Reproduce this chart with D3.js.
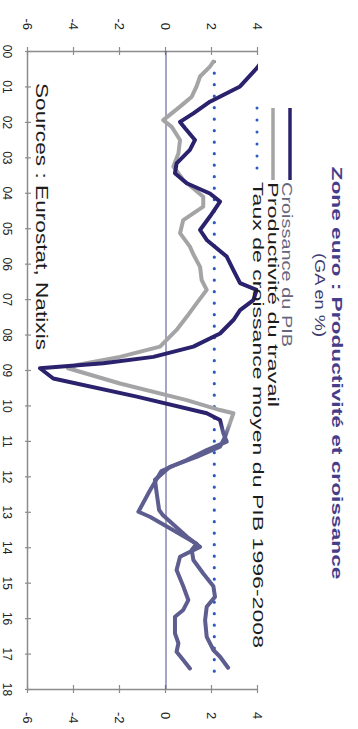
<!DOCTYPE html>
<html>
<head>
<meta charset="utf-8">
<script src="https://cdn.jsdelivr.net/npm/d3@7"></script>
<style>
  body { margin: 0; background: #fff; }
  svg { display: block; font-family: "Liberation Sans", Arial, sans-serif; }
</style>
</head>
<body>
<div id="chart"></div>
<script>
// Years on the category axis, value ticks (GA en %)
const years = d3.range(2000, 2019);
const valueTicks = [-6, -4, -2, 0, 2, 4];

// Croissance du PIB, [year, %]
const gdp = [
  [2000.0, 4.5], [2000.49, 3.94], [2001.0, 3.22], [2001.43, 1.91], [2001.76, 1.19],
  [2002.0, 0.61], [2002.18, 0.83], [2002.51, 1.26], [2002.79, 1.04], [2003.17, 0.46],
  [2003.45, 0.39], [2003.73, 0.9], [2004.02, 1.91], [2004.25, 2.35], [2004.67, 1.91],
  [2005.05, 1.48], [2005.33, 1.77], [2005.8, 2.64], [2006.18, 2.93], [2006.55, 3.22],
  [2006.74, 3.94], [2007.03, 3.8], [2007.31, 3.22], [2007.59, 2.93], [2007.97, 2.35],
  [2008.34, 1.19], [2008.63, -0.55], [2008.81, -2.72], [2008.95, -5.48], [2009.24, -4.9],
  [2009.75, -1.27], [2010.22, 1.77], [2010.41, 2.35], [2010.78, 2.49], [2011.02, 2.64],
  [2011.26, 1.77], [2011.54, 0.9], [2011.85, -0.2], [2012.4, -0.7], [2013.0, -1.2],
  [2013.14, -0.7], [2013.52, 0.32], [2013.9, 1.33], [2014.08, 1.12], [2014.36, 1.19],
  [2014.74, 1.62], [2015.1, 2.06], [2015.4, 2.13], [2015.68, 1.77], [2016.06, 1.7],
  [2016.53, 1.77], [2016.9, 2.06], [2017.09, 2.35], [2017.4, 2.7]
];

// Productivité du travail, [year, %]
const productivity = [
  [2000.3, 2.06], [2000.44, 1.91], [2000.72, 1.48], [2001.0, 1.33], [2001.29, 1.12],
  [2001.57, 0.61], [2001.95, -0.12], [2002.14, 0.25], [2002.51, 0.61], [2002.89, 0.54],
  [2003.26, 0.32], [2003.64, 0.75], [2004.11, 1.62], [2004.39, 1.62], [2004.77, 0.75],
  [2005.14, 0.61], [2005.52, 1.04], [2005.75, 1.2], [2006.09, 1.48], [2006.46, 1.55],
  [2006.74, 1.77], [2007.12, 1.33], [2007.5, 0.9], [2007.87, 0.46], [2008.34, -0.26],
  [2008.63, -2.0], [2008.86, -3.88], [2008.95, -4.26], [2009.38, -2.0], [2009.85, 0.9],
  [2010.13, 2.35], [2010.22, 2.93], [2010.5, 2.78], [2010.88, 2.57], [2011.16, 2.35],
  [2011.45, 1.33], [2011.73, 0.17], [2012.1, -0.48], [2012.5, -0.4], [2012.95, -0.3],
  [2013.1, -0.13], [2013.7, 0.9], [2013.99, 1.48], [2014.27, 0.61], [2014.64, 0.46],
  [2015.1, 0.75], [2015.49, 0.97], [2015.77, 0.75], [2015.96, 0.39], [2016.43, 0.39],
  [2016.71, 0.54], [2016.95, 0.46], [2017.18, 0.75], [2017.42, 1.04]
];

// Taux de croissance moyen du PIB 1996-2008
const avgGrowth = 2.1;
const avgSpan = [2000.3, 2017.6];

const legendLabels = [
  "Croissance du PIB",
  "Productivité du travail",
  "Taux de croissance moyen du PIB 1996-2008"
];

const W = 358, H = 729;
const navy = "#2b226e", grey = "#a4a4a6", slate = "#5d5d90", dotBlue = "#2c5cc0";
const axisColor = "#8c8c8c";

const svg = d3.select("#chart").append("svg")
  .attr("width", W).attr("height", H);
svg.append("rect").attr("width", W).attr("height", H).attr("fill", "#fff");

// the chart is laid out landscape and turned a quarter turn clockwise
const g = svg.append("g").attr("transform", `translate(${W},0) rotate(90)`);

const x = d3.scaleLinear().domain([2000, 2018]).range([51, 689]);
const y = d3.scaleLinear().domain([-6, 4]).range([330, 100]);

const defs = svg.append("defs");
defs.append("clipPath").attr("id", "plot")
  .append("rect")
  .attr("x", x(2000)).attr("y", y(4))
  .attr("width", x(2018) - x(2000)).attr("height", y(-6) - y(4));

function fade(id, from, to, t0, t1) {
  const lg = defs.append("linearGradient").attr("id", id)
    .attr("gradientUnits", "userSpaceOnUse")
    .attr("x1", x(t0)).attr("x2", x(t1)).attr("y1", 0).attr("y2", 0);
  lg.append("stop").attr("offset", 0).attr("stop-color", from);
  lg.append("stop").attr("offset", 1).attr("stop-color", to);
}
fade("gdpFade", navy, slate, 2010.4, 2010.75);
fade("prodFade", grey, slate, 2010.5, 2010.85);

// axes
function styleAxis(a) {
  a.select(".domain").attr("stroke", axisColor).attr("stroke-width", 1.5);
  a.selectAll(".tick line").attr("stroke", axisColor).attr("stroke-width", 1.2);
  a.selectAll(".tick text").attr("fill", "#222").attr("font-family", "Liberation Sans, Arial, sans-serif");
}

const xAxis = g.append("g")
  .attr("transform", `translate(0,${y(-6)})`)
  .call(d3.axisBottom(x).tickValues(years).tickSize(3).tickSizeOuter(0)
    .tickPadding(13).tickFormat(d => String(d).slice(2)));
xAxis.selectAll(".tick line").attr("y1", -3);
xAxis.selectAll(".tick text").attr("font-size", 12);
styleAxis(xAxis);

const leftAxis = g.append("g")
  .attr("transform", `translate(${x(2000)},0)`)
  .call(d3.axisLeft(y).tickValues(valueTicks).tickSize(4).tickSizeOuter(0)
    .tickPadding(17).tickFormat(d => String(d)));
leftAxis.selectAll(".tick line").attr("x1", 4);
leftAxis.selectAll(".tick text").attr("font-size", 13);
styleAxis(leftAxis);

const rightAxis = g.append("g")
  .attr("transform", `translate(${x(2018)},0)`)
  .call(d3.axisRight(y).tickValues(valueTicks).tickSize(4).tickSizeOuter(0)
    .tickPadding(19).tickFormat(d => String(d)));
rightAxis.selectAll(".tick line").attr("x1", -4);
rightAxis.selectAll(".tick text").attr("font-size", 13);
styleAxis(rightAxis);

// zero line
g.append("line")
  .attr("x1", x(2000)).attr("x2", x(2018))
  .attr("y1", y(0)).attr("y2", y(0))
  .attr("stroke", "#4a4a8c").attr("stroke-width", 1);

const line = d3.line().x(d => x(d[0])).y(d => y(d[1]));
const plot = g.append("g").attr("clip-path", "url(#plot)");

plot.append("path")
  .attr("d", line([[avgSpan[0], avgGrowth], [avgSpan[1], avgGrowth]]))
  .attr("fill", "none").attr("stroke", dotBlue).attr("stroke-width", 3.2)
  .attr("stroke-linecap", "round").attr("stroke-dasharray", "0 11.5");

plot.append("path").datum(productivity)
  .attr("d", line)
  .attr("fill", "none").attr("stroke", "url(#prodFade)").attr("stroke-width", 4)
  .attr("stroke-linejoin", "round").attr("stroke-linecap", "round");

plot.append("path").datum(gdp)
  .attr("d", line)
  .attr("fill", "none").attr("stroke", "url(#gdpFade)").attr("stroke-width", 4)
  .attr("stroke-linejoin", "round").attr("stroke-linecap", "round");

// title
g.append("text")
  .attr("x", 373).attr("y", 26)
  .attr("text-anchor", "middle")
  .attr("font-size", 14).attr("font-weight", "bold").attr("fill", "#463d8a")
  .attr("textLength", 413).attr("lengthAdjust", "spacingAndGlyphs")
  .text("Zone euro : Productivité et croissance");
g.append("text")
  .attr("x", 295).attr("y", 43)
  .attr("text-anchor", "middle")
  .attr("font-size", 14).attr("fill", "#3d3a6e")
  .attr("textLength", 84).attr("lengthAdjust", "spacingAndGlyphs")
  .text("(GA en %)");

// legend
const legendRows = [
  { label: legendLabels[0], color: navy, dash: null, width: 3.5, lineY: 68, textY: 76, len: 165, fill: "#66667e" },
  { label: legendLabels[1], color: grey, dash: null, width: 3.5, lineY: 85, textY: 90, len: 225, fill: "#1c1c1c" },
  { label: legendLabels[2], color: dotBlue, dash: "0 12", width: 3, lineY: 101, textY: 105, len: 466, fill: "#1c1c1c" }
];
const legend = g.append("g");
legendRows.forEach(r => {
  legend.append("line")
    .attr("x1", 108).attr("x2", r.dash ? 174 : 180)
    .attr("y1", r.lineY).attr("y2", r.lineY)
    .attr("stroke", r.color).attr("stroke-width", r.width)
    .attr("stroke-linecap", r.dash ? "round" : "butt")
    .attr("stroke-dasharray", r.dash);
  legend.append("text")
    .attr("x", 182).attr("y", r.textY)
    .attr("font-size", 15.5).attr("fill", r.fill)
    .attr("textLength", r.len).attr("lengthAdjust", "spacingAndGlyphs")
    .text(r.label);
});

// sources
g.append("text")
  .attr("x", 83).attr("y", 322)
  .attr("font-size", 16).attr("fill", "#1c1c1c")
  .attr("textLength", 267).attr("lengthAdjust", "spacingAndGlyphs")
  .text("Sources : Eurostat, Natixis");
</script>
</body>
</html>
